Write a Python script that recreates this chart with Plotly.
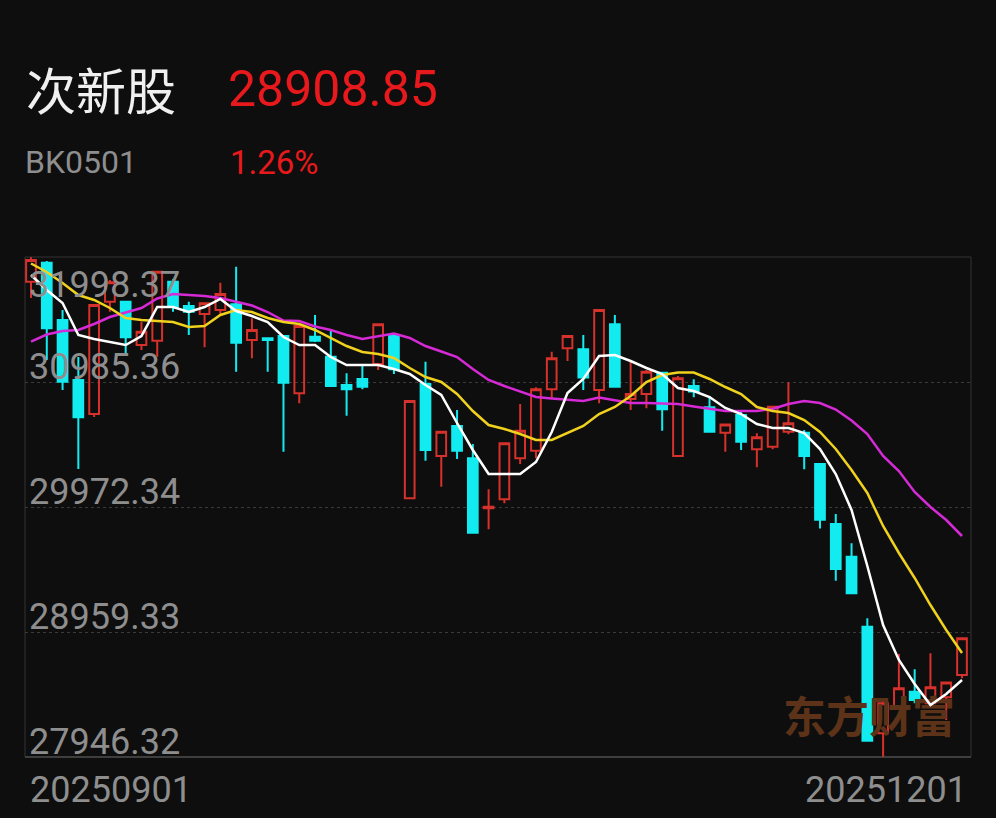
import plotly.graph_objects as go

# ---------------- data ----------------
name_text = "次新股"
code_text = "BK0501"
price_text = "28908.85"
change_text = "1.26%"
watermark_text = "东方财富"
date_labels = ["20250901", "20251201"]
y_ticks = [31998.37, 30985.36, 29972.34, 28959.33, 27946.32]

opens = [31798.3, 31952.6, 31487.9, 31001.6, 30726.0, 31636.2, 31636.2, 31285.3, 31320.2, 31798.3,
         31601.4, 31536.5, 31569.0, 31615.2, 31325.8, 31339.6, 31358.3, 30894.4, 31352.6, 31190.4,
         30961.1, 31009.7, 31131.2, 31358.3, 30042.9, 30969.2, 30385.7, 30628.8, 30367.0, 29961.8,
         30034.8, 30367.0, 30428.6, 30925.8, 31258.5, 31250.4, 30920.5, 31453.1, 30847.6, 30888.1,
         31060.9, 30385.7, 30953.0, 30780.3, 30573.7, 30717.9, 30440.0, 30461.0, 30582.6, 30573.7,
         30320.8, 29834.6, 29569.6, 29002.3, 28138.3, 28353.9, 28475.5, 28381.5, 28430.1, 28610.9]
highs = [31996.0, 31966.1, 31569.0, 31188.0, 31609.5, 31812.1, 31636.2, 31474.1, 31878.5, 31820.2,
         31636.2, 31623.3, 31789.4, 31919.9, 31501.7, 31339.6, 31358.3, 31455.5, 31528.4, 31406.9,
         31055.7, 31123.1, 31455.5, 31358.3, 30831.4, 31149.9, 30582.6, 30758.5, 30482.9, 30115.8,
         30488.6, 30807.1, 30942.2, 31230.9, 31358.3, 31366.4, 31569.0, 31528.4, 31147.5, 31082.6,
         31069.3, 31034.0, 31007.3, 30871.9, 30641.8, 30758.5, 30569.3, 30790.9, 30982.9, 30595.6,
         30320.8, 29915.6, 29678.2, 29070.4, 28408.2, 28781.1, 28657.1, 28786.8, 28549.1, 28908.85]
lows = [31666.2, 31163.6, 30920.5, 30280.3, 30701.7, 31555.2, 31218.0, 31244.7, 31190.4, 31555.2,
        31366.4, 31266.8, 31528.4, 31069.3, 31177.4, 31069.3, 30420.5, 30812.8, 31309.6, 30953.0,
        30712.3, 30925.8, 31082.6, 31050.2, 30042.9, 30347.6, 30136.9, 30361.4, 29764.0, 29792.0,
        30002.4, 30320.8, 30367.0, 30853.3, 31155.6, 30920.5, 30812.8, 30946.5, 30758.5, 30772.2,
        30590.7, 30385.7, 30861.4, 30582.6, 30420.5, 30434.3, 30294.1, 30440.0, 30561.5, 30277.9,
        29797.7, 29374.1, 29273.0, 28078.6, 27948.7, 28353.9, 28381.5, 28381.5, 28246.1, 28584.2]
closes = [31974.2, 31420.7, 30987.8, 30699.3, 31609.5, 31793.4, 31347.7, 31393.1, 31878.5, 31595.7,
          31555.2, 31623.3, 31698.6, 31304.0, 31406.9, 31325.8, 30978.9, 31439.3, 31320.2, 30953.0,
          30925.8, 30946.5, 31453.1, 31088.2, 30831.4, 30434.3, 30582.6, 30428.6, 29764.0, 29974.8,
          30488.6, 30590.7, 30925.8, 31177.4, 31358.3, 31022.6, 31569.0, 30946.5, 30888.1, 31069.3,
          30763.9, 31014.9, 30907.4, 30582.6, 30641.8, 30501.6, 30537.0, 30785.2, 30650.6, 30385.7,
          29869.6, 29469.9, 29273.0, 28078.6, 28381.5, 28503.0, 28408.2, 28511.1, 28549.1, 28908.85]
ma5 = [31852.5, 31730.9, 31625.6, 31366.3, 31333.8, 31309.5, 31285.2, 31358.1, 31593.2, 31593.2,
       31552.6, 31593.2, 31658.0, 31560.7, 31520.2, 31471.6, 31350.0, 31285.2, 31285.2, 31188.0,
       31123.1, 31123.1, 31123.1, 31090.7, 31050.2, 30961.0, 30880.0, 30653.1, 30434.3, 30239.8,
       30239.8, 30239.8, 30337.0, 30580.2, 30896.2, 31009.7, 31196.1, 31204.2, 31155.5, 31098.8,
       31050.2, 30936.7, 30912.4, 30863.8, 30774.7, 30726.0, 30645.0, 30612.6, 30612.6, 30572.0,
       30442.4, 30239.8, 29948.0, 29494.2, 29016.1, 28732.4, 28537.9, 28367.7, 28456.9, 28570.3]
ma10 = [31945.7, 31876.8, 31787.7, 31690.4, 31649.9, 31585.1, 31504.0, 31487.8, 31479.7, 31471.6,
        31431.1, 31439.2, 31528.3, 31568.9, 31552.6, 31504.0, 31471.6, 31455.4, 31406.8, 31341.9,
        31277.1, 31228.5, 31212.3, 31179.9, 31098.8, 31025.9, 30985.4, 30888.1, 30750.3, 30636.9,
        30604.5, 30563.9, 30515.3, 30515.3, 30572.0, 30628.8, 30726.0, 30782.8, 30871.9, 30985.4,
        31042.1, 31062.3, 31062.3, 31009.7, 30944.8, 30888.1, 30782.8, 30750.3, 30734.1, 30677.4,
        30580.2, 30442.4, 30272.2, 30085.8, 29818.4, 29599.6, 29397.0, 29178.1, 28975.5, 28789.1]
ma20 = [31311.9, 31370.3, 31398.7, 31406.8, 31455.4, 31512.1, 31548.6, 31585.1, 31662.0, 31698.5,
        31690.4, 31682.3, 31666.1, 31633.7, 31605.3, 31552.6, 31483.8, 31479.7, 31435.1, 31406.8,
        31366.3, 31333.8, 31354.1, 31378.4, 31341.9, 31277.1, 31232.5, 31188.0, 31090.7, 31001.6,
        30952.9, 30906.7, 30863.8, 30851.6, 30843.5, 30831.4, 30859.7, 30839.5, 30815.2, 30815.2,
        30811.1, 30807.1, 30786.8, 30766.5, 30750.3, 30750.3, 30750.3, 30766.5, 30807.1, 30831.4,
        30815.2, 30762.5, 30673.4, 30563.9, 30385.7, 30264.1, 30093.9, 29972.3, 29867.0, 29737.3]

# ---------------- styling ----------------
BG = "#0e0e0e"
RED = "#d6312b"
CYAN = "#12ecf0"
YEL = "#f0d21e"
MAG = "#d52ad5"
WHITE = "#ffffff"
LABEL = "#8e8e8e"
GRID = "#3a3a3a"
NUM_FONT = "Roboto"
CJK_FONT = "Noto Sans CJK SC"

x = list(range(len(closes)))

fig = go.Figure()

# watermark (drawn beneath the candles)
fig.add_trace(go.Scatter(
    x=[53.1], y=[28230], mode="text", text=[watermark_text],
    textfont=dict(family=CJK_FONT, size=43, color="#5c3319", weight="bold"),
    hoverinfo="skip", showlegend=False))

fig.add_trace(go.Candlestick(
    x=x, open=opens, high=highs, low=lows, close=closes,
    increasing=dict(line=dict(color=RED, width=2), fillcolor="rgba(0,0,0,0)"),
    decreasing=dict(line=dict(color=CYAN, width=2), fillcolor=CYAN),
    whiskerwidth=0, showlegend=False, hoverinfo="skip"))

for vals, col in [(ma20, MAG), (ma10, YEL), (ma5, WHITE)]:
    fig.add_trace(go.Scatter(x=x, y=vals, mode="lines",
                             line=dict(color=col, width=2.5),
                             hoverinfo="skip", showlegend=False))

annotations = []
# y labels inside the plot
for i, v in enumerate(y_ticks):
    annotations.append(dict(
        xref="paper", yref="y", x=0, y=v, xanchor="left", yanchor="middle",
        xshift=2, yshift=(-28 if i == 0 else 15), showarrow=False,
        text=f"{v:.2f}", font=dict(family=NUM_FONT, size=36, color=LABEL)))

# date labels under the plot
annotations.append(dict(xref="paper", yref="paper", x=0, y=0, xanchor="left",
                        yanchor="middle", xshift=3, yshift=-33, showarrow=False,
                        text=date_labels[0], font=dict(family=NUM_FONT, size=36, color=LABEL)))
annotations.append(dict(xref="paper", yref="paper", x=1, y=0, xanchor="right",
                        yanchor="middle", xshift=-2, yshift=-33, showarrow=False,
                        text=date_labels[1], font=dict(family=NUM_FONT, size=36, color=LABEL)))

# header
def px(xp, yp):
    return (xp - 25) / 946.0, (757 - yp) / 500.0

hx, hy = px(24, 88)
annotations.append(dict(xref="paper", yref="paper", x=hx, y=hy, xanchor="left", yanchor="middle",
                        showarrow=False, text=name_text,
                        font=dict(family=CJK_FONT, size=50, color="#f0f0f0")))
hx, hy = px(226, 89)
annotations.append(dict(xref="paper", yref="paper", x=hx, y=hy, xanchor="left", yanchor="middle",
                        showarrow=False, text=price_text,
                        font=dict(family=NUM_FONT, size=50, color="#e8191c")))
hx, hy = px(23, 162)
annotations.append(dict(xref="paper", yref="paper", x=hx, y=hy, xanchor="left", yanchor="middle",
                        showarrow=False, text=code_text,
                        font=dict(family=NUM_FONT, size=32, color=LABEL)))
hx, hy = px(228, 162)
annotations.append(dict(xref="paper", yref="paper", x=hx, y=hy, xanchor="left", yanchor="middle",
                        showarrow=False, text=change_text,
                        font=dict(family=NUM_FONT, size=33, color="#e8191c")))

shapes = [
    dict(type="rect", xref="paper", yref="paper", x0=0, x1=1, y0=0, y1=1,
         line=dict(color="#333333", width=1), layer="below"),
    dict(type="line", xref="paper", yref="paper", x0=0, x1=1, y0=0, y1=0,
         line=dict(color="#3e3e3e", width=2), layer="below"),
]

fig.update_layout(
    width=996, height=818,
    margin=dict(l=25, r=25, t=257, b=61),
    paper_bgcolor=BG, plot_bgcolor=BG,
    showlegend=False,
    boxgap=0.385, boxgroupgap=0,
    xaxis=dict(range=[-0.38, 59.57], showgrid=False, zeroline=False,
               showticklabels=False, ticks="", showline=False,
               rangeslider=dict(visible=False), fixedrange=True),
    yaxis=dict(range=[y_ticks[-1], y_ticks[0]], tickvals=y_ticks[1:-1],
               showticklabels=False, ticks="", showgrid=True, gridcolor=GRID,
               griddash="dot", gridwidth=1, zeroline=False, showline=False,
               fixedrange=True),
    annotations=annotations,
    shapes=shapes,
)

fig.write_html(
    "out.html",
    config={"displayModeBar": False},
    post_script="document.body.style.margin='0';document.body.style.padding='0';"
                "document.body.style.background='#0e0e0e';"
                "document.documentElement.style.background='#0e0e0e';",
)
